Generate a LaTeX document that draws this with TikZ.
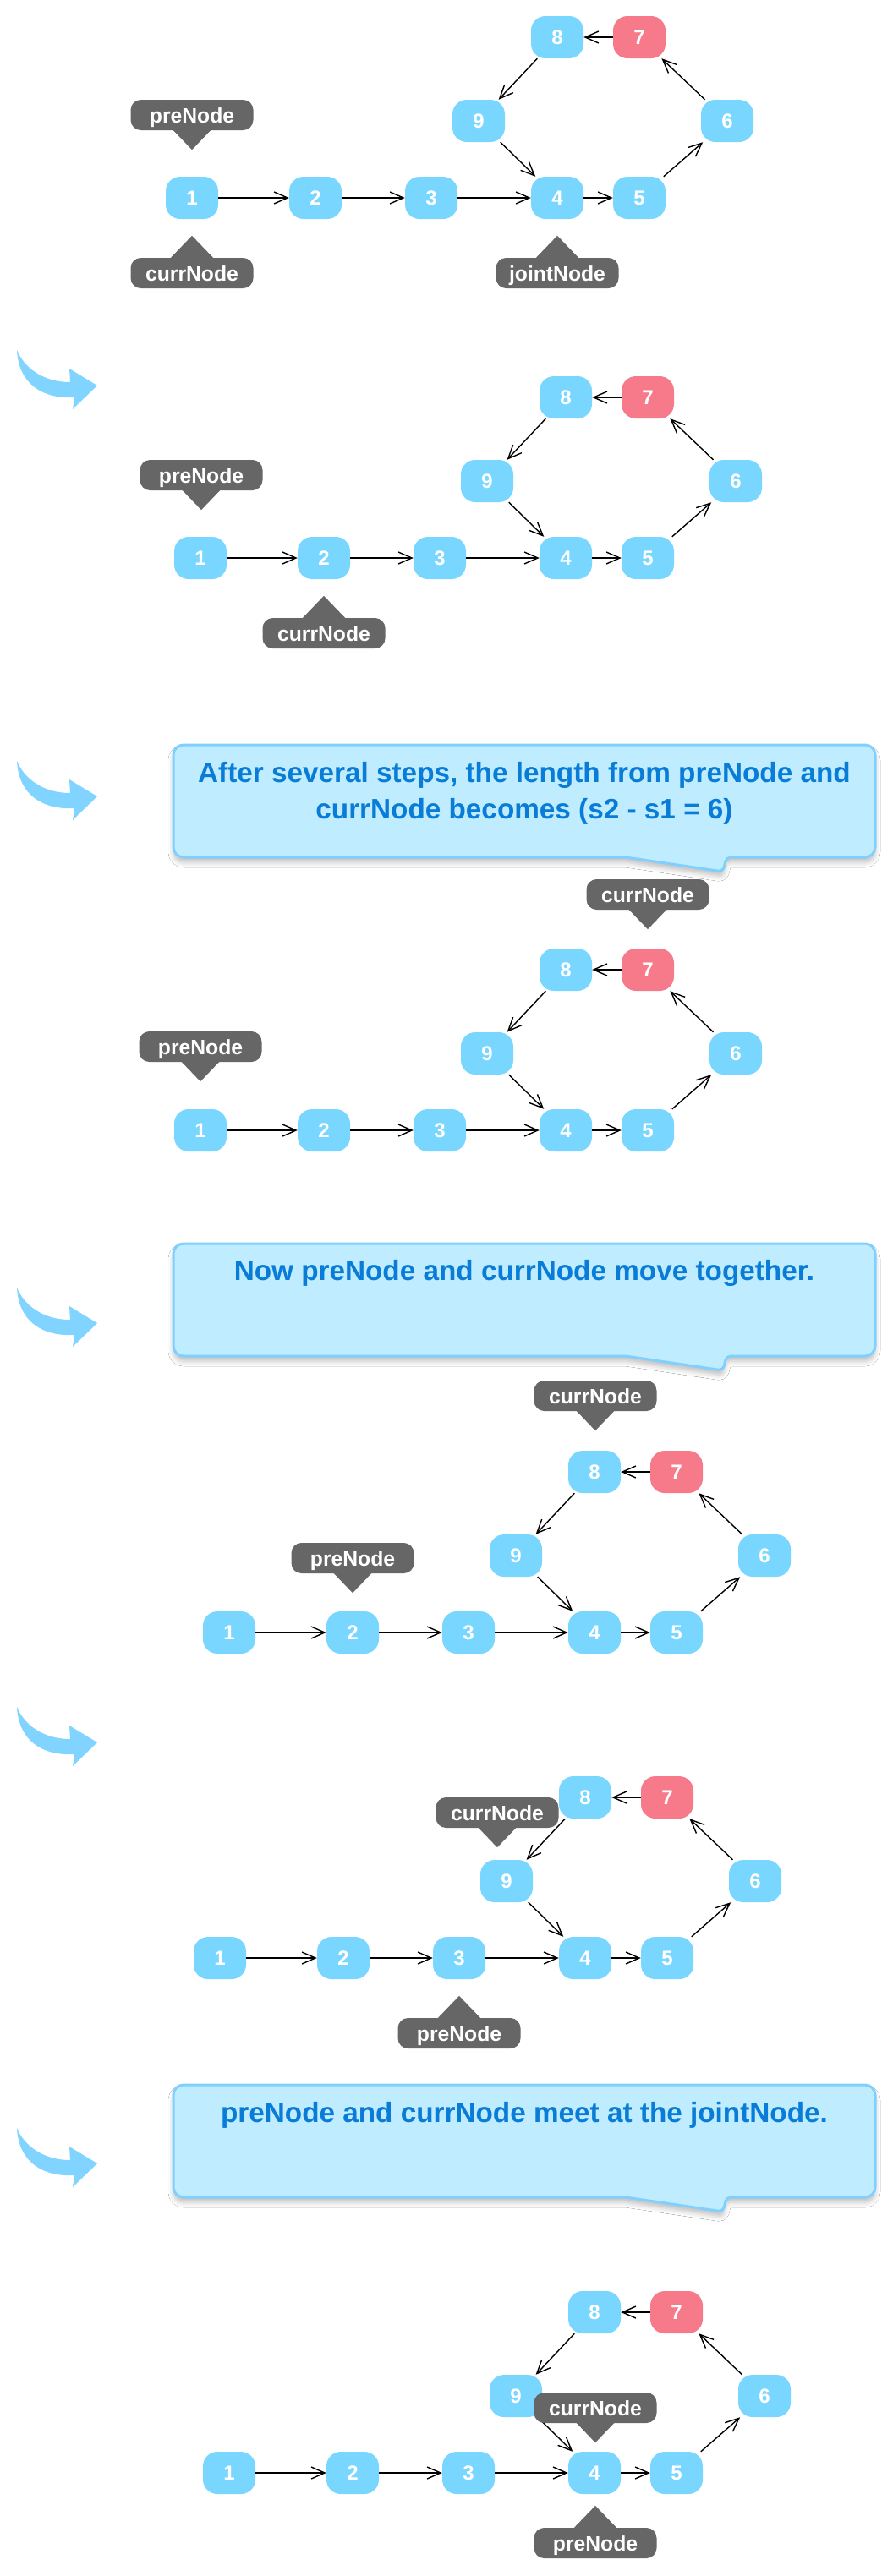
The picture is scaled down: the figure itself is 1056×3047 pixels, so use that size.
\documentclass[tikz,border=0pt]{standalone}
\usepackage{fontspec}
\setmainfont{Liberation Sans}
\usetikzlibrary{arrows.meta,shadows.blur}
\definecolor{nodeblue}{RGB}{121,215,255}
\definecolor{nodered}{RGB}{247,122,139}
\definecolor{taggray}{RGB}{102,102,102}
\definecolor{bubfill}{RGB}{192,236,255}
\definecolor{bubline}{RGB}{128,208,255}
\definecolor{bubtext}{RGB}{8,124,214}
\definecolor{curvearrow}{RGB}{128,212,255}
\tikzset{
  ln/.style={rectangle, rounded corners=17pt, fill=nodeblue, minimum width=62pt, minimum height=50pt,
    inner sep=0pt, text=white, text height=17pt, text depth=0pt, font=\fontsize{24}{24}\selectfont\bfseries},
  lnr/.style={ln, fill=nodered},
  arr/.style={-{Straight Barb[length=16pt,width=14pt,line width=1.4pt]}, line width=1.4pt, black},
  tag/.style={rectangle, rounded corners=12pt, fill=taggray, minimum width=145pt, minimum height=36pt,
    inner sep=0pt, text=white, text height=18pt, text depth=0pt, font=\fontsize{24.7}{25}\selectfont\bfseries},
  bub/.style={fill=bubfill, draw=bubline, line width=3pt,
    blur shadow={shadow xshift=0pt, shadow yshift=-6pt, shadow blur radius=6pt, shadow opacity=25}},
  bubtxt/.style={anchor=base, inner sep=0pt, text=bubtext, font=\fontsize{33.3}{42}\selectfont\bfseries},
}
\newcommand\listpanel[3]{%
\begin{scope}[shift={(#2,#3)}]
\node[ln] (#1n1) at (227,234) {1};
\node[ln] (#1n2) at (373,234) {2};
\node[ln] (#1n3) at (510,234) {3};
\node[ln] (#1n4) at (659,234) {4};
\node[ln] (#1n5) at (756,234) {5};
\node[ln] (#1n6) at (860,143) {6};
\node[lnr] (#1n7) at (756,44) {7};
\node[ln] (#1n8) at (659,44) {8};
\node[ln] (#1n9) at (566,143) {9};
\draw[arr] (#1n1) -- (#1n2);
\draw[arr] (#1n2) -- (#1n3);
\draw[arr] (#1n3) -- (#1n4);
\draw[arr] (#1n4) -- (#1n5);
\draw[arr] (#1n5) -- (#1n6);
\draw[arr] (#1n6) -- (#1n7);
\draw[arr] (#1n7) -- (#1n8);
\draw[arr] (#1n8) -- (#1n9);
\draw[arr] (#1n9) -- (#1n4);
\end{scope}}
\newcommand\tagabove[4]{%
\node[tag] (#1) at (#2,#3) {#4};
\fill[taggray] ([xshift=-23pt,yshift=1pt]#1.south) -- ([xshift=23pt,yshift=1pt]#1.south) -- ([yshift=-23pt]#1.south) -- cycle;}
\newcommand\tagbelow[4]{%
\node[tag] (#1) at (#2,#3) {#4};
\fill[taggray] ([xshift=-26pt,yshift=-1pt]#1.north) -- ([xshift=26pt,yshift=-1pt]#1.north) -- ([yshift=26pt]#1.north) -- cycle;}
\newcommand\curvarrow[1]{%
\begin{scope}[shift={(20,#1)}]
\fill[curvearrow] (0,0) .. controls (8,20) and (30,38) .. (63,38) -- (62,22) -- (95,42) -- (66,70) -- (68,56)
  .. controls (30,58) and (2,40) .. (0,0) -- cycle;
\end{scope}}
\newcommand\bubble[1]{%
\path[bub] (620,#1) [rounded corners=12pt] -- (1035,#1) -- (1035,#1+133) [rounded corners=5pt] -- (859,#1+133)
  -- (855,#1+150) [sharp corners] -- (740,#1+133) [rounded corners=12pt] -- (205,#1+133) -- (205,#1) -- cycle;}
\begin{document}
\begin{tikzpicture}[x=1pt,y=-1pt]
\fill[white] (0,0) rectangle (1056,3047);
\useasboundingbox (0,0) rectangle (1056,3047);
% panel 1
\listpanel{A}{0}{0}
\tagabove{Apre}{227}{136}{preNode}
\tagbelow{Acurr}{227}{323}{currNode}
\tagbelow{Ajoint}{659}{323}{jointNode}
% panel 2
\curvarrow{414}
\listpanel{B}{10}{426}
\tagabove{Bpre}{238}{562}{preNode}
\tagbelow{Bcurr}{383}{749}{currNode}
% panel 3
\curvarrow{900}
\bubble{881}
\node[bubtxt] (Ct1) at (620,925) {After several steps, the length from preNode and};
\node[bubtxt] (Ct2) at (620,968) {currNode becomes (s2 - s1 = 6)};
\listpanel{C}{10}{1103}
\tagabove{Ccurr}{766}{1058}{currNode}
\tagabove{Cpre}{237}{1238}{preNode}
% panel 4
\curvarrow{1523}
\bubble{1471}
\node[bubtxt] (Dt1) at (620,1514) {Now preNode and currNode move together.};
\listpanel{D}{44}{1697}
\tagabove{Dcurr}{704}{1651}{currNode}
\tagabove{Dpre}{417}{1843}{preNode}
% panel 5
\curvarrow{2019}
\listpanel{E}{33}{2082}
\tagabove{Ecurr}{588}{2144}{currNode}
\tagbelow{Epre}{543}{2405}{preNode}
% panel 6
\curvarrow{2517}
\bubble{2466}
\node[bubtxt] (Ft1) at (620,2510) {preNode and currNode meet at the jointNode.};
\listpanel{F}{44}{2691}
\tagabove{Fcurr}{704}{2848}{currNode}
\tagbelow{Fpre}{704}{3008}{preNode}
\end{tikzpicture}
\end{document}
